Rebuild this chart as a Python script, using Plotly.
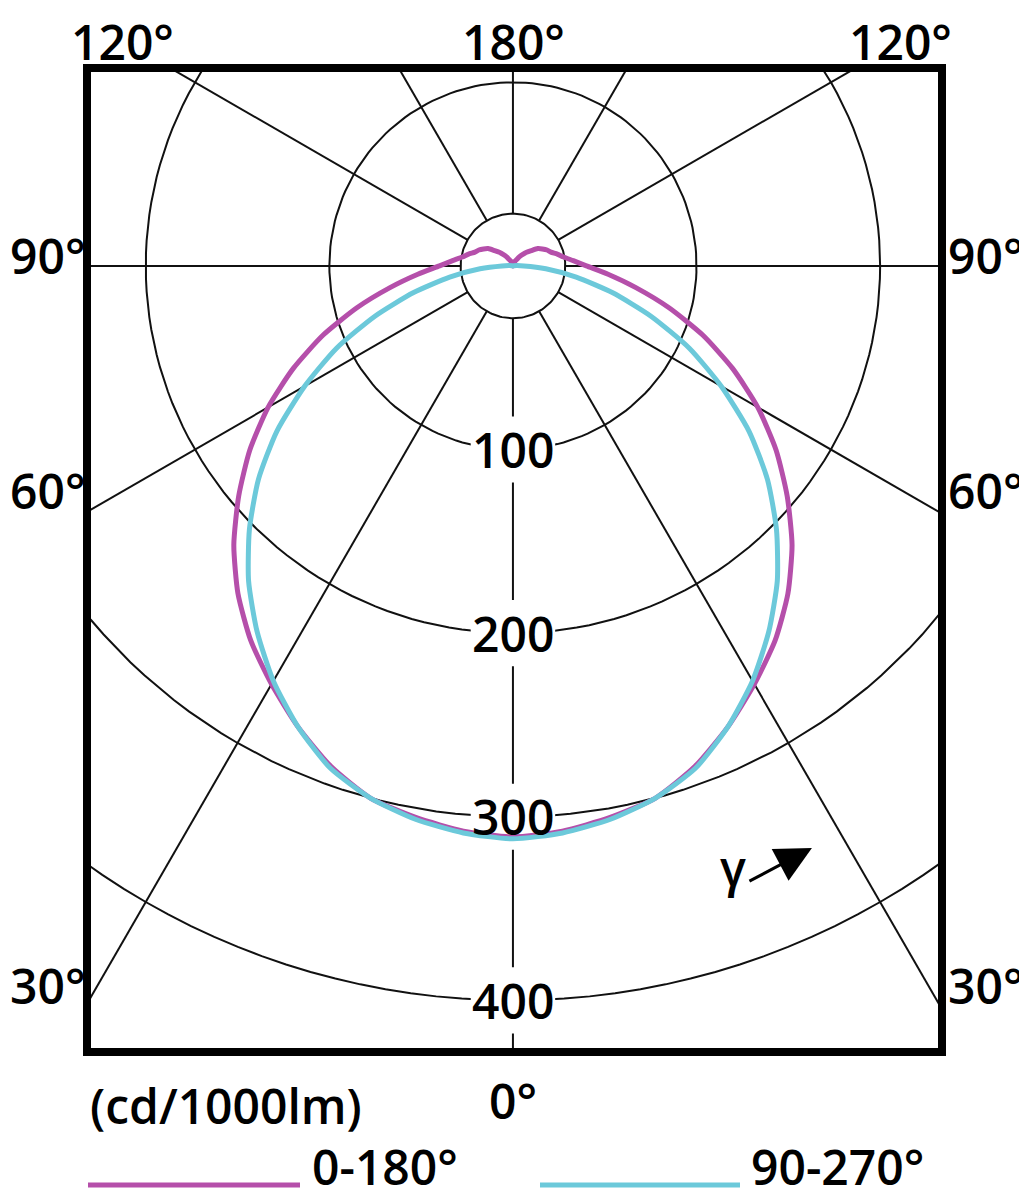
"""Polar light distribution diagram (cd/1000lm) for two C-planes."""

import numpy as np
import plotly.graph_objects as go

# ── data ────────────────────────────────────────────────────────────────
GAMMA = [0, 5, 10, 15, 20, 25, 30, 35, 40, 45, 50, 55, 60, 65, 70, 75, 80, 85, 90,
         95, 100, 105, 110, 115, 120, 125, 130, 135, 140, 145, 150, 155, 160, 165,
         170, 175, 180]

# C0-C180 plane
I_C0_180 = [311, 309, 305, 300, 290, 277, 263, 249, 233, 215, 195, 175, 154, 132,
            110, 88, 68, 52, 40, 33, 28, 25, 22, 20.5, 18.5, 16.5, 13, 10.5, 8, 6,
            4, 3, 2, 1.5, 1, 0.5, 0]

# C90-C270 plane
I_C90_270 = [312, 310, 306, 300, 291, 277, 261, 243, 224, 203, 181, 157, 131, 106,
             80, 56, 35, 18, 6, 2, 0.5, 0, 0, 0, 0, 0, 0, 0, 0, 0, 0, 0, 0, 0, 0,
             0, 0]

SERIES_NAMES = ["0-180°", "90-270°"]
SERIES_COLORS = ["#B54FAA", "#6CC9DA"]

RINGS = [100, 200, 300, 400]
RING_LABELS = ["100", "200", "300", "400"]
INNER_RING = 28.5
SPOKES = [0, 30, 60, 90, 120, 150, 180]
UNIT_LABEL = "(cd/1000lm)"

# ── geometry / layout ───────────────────────────────────────────────────
# page body has an 8px margin, so the figure is drawn 8px smaller and all
# reference pixel positions are shifted by OFF
OFF = 8
W, H = 1019, 1192
L, T = 87 - OFF, 68 - OFF
PW, PH = 855, 984
R, B = W - L - PW, H - T - PH
X_RANGE = [-232.0, 233.7]
Y_RANGE = [-428.1, 107.8]
FONT = "Open Sans"
S = 1.836  # px per cd/1000lm


def polar_xy(r, deg):
    t = np.radians(np.asarray(deg, dtype=float))
    r = np.asarray(r, dtype=float)
    return r * np.sin(t), -r * np.cos(t)


def px(x, y):
    """reference pixel position -> paper coords"""
    return (x - OFF - L) / PW, (T + PH - (y - OFF)) / PH


fig = go.Figure()

# grid rings
circle = np.arange(0, 361, 2)
for rr in [INNER_RING] + RINGS:
    cx, cy = polar_xy(np.full(circle.shape, rr), circle)
    fig.add_trace(go.Scatter(x=cx, y=cy, mode="lines", line=dict(color="#111", width=2),
                             hoverinfo="skip", showlegend=False))

# spokes, starting on the inner ring
sx, sy = [], []
for a in SPOKES:
    for sign in ([1] if a in (0, 180) else [1, -1]):
        x0, y0 = polar_xy(INNER_RING, sign * a)
        x1, y1 = polar_xy(900, sign * a)
        sx += [x0, x1, None]
        sy += [y0, y1, None]
fig.add_trace(go.Scatter(x=sx, y=sy, mode="lines", line=dict(color="#111", width=2),
                         hoverinfo="skip", showlegend=False))

# white boxes behind the ring labels (break the grid only)
hw, hh = 23, 18
for rr in RINGS:
    fig.add_trace(go.Scatter(
        x=[-hw, hw, hw, -hw, -hw], y=[-rr - hh, -rr - hh, -rr + hh, -rr + hh, -rr - hh],
        mode="lines", fill="toself", fillcolor="white", line=dict(width=0),
        hoverinfo="skip", showlegend=False))

# curves
for name, vals, col in zip(SERIES_NAMES, [I_C0_180, I_C90_270], SERIES_COLORS):
    ang = [-g for g in GAMMA[::-1][:-1]] + GAMMA
    rad = vals[::-1][:-1] + vals
    cx, cy = polar_xy(rad, ang)
    fig.add_trace(go.Scatter(x=cx, y=cy, mode="lines", name=name,
                             line=dict(color=col, width=5, shape="spline", smoothing=0.6),
                             showlegend=False))

ann = []
txt = dict(family=FONT, size=48, color="black", weight=600)

for rr, lab in zip(RINGS, RING_LABELS):
    ann.append(dict(x=0, y=-rr, xref="x", yref="y", text=lab, showarrow=False, font=txt))

# angle labels around the frame
top_y = (T + PH) / PH
for text, x in [("120°", 122), ("180°", 513), ("120°", 900)]:
    xp, _ = px(x, 0)
    ann.append(dict(x=xp, y=top_y, xref="paper", yref="paper", text=text, showarrow=False,
                    xanchor="center", yanchor="top", borderpad=0, font=txt))

left_x = -L / PW
right_x = (W - L - 2) / PW
for text, y in [("90°", 256), ("60°", 490), ("30°", 985)]:
    _, yp = px(0, y)
    ann.append(dict(x=left_x, y=yp, xref="paper", yref="paper", text=text, showarrow=False,
                    xanchor="left", yanchor="middle", font=txt))
    ann.append(dict(x=right_x, y=yp, xref="paper", yref="paper", text=text, showarrow=False,
                    xanchor="right", yanchor="middle", font=txt))

xp, yp = px(513, 1100)
ann.append(dict(x=xp, y=yp, xref="paper", yref="paper", text="0°", showarrow=False,
                xanchor="center", yanchor="middle", font=txt))

xp, yp = px(88, 1105)
ann.append(dict(x=xp, y=yp, xref="paper", yref="paper", text=UNIT_LABEL, showarrow=False,
                xanchor="left", yanchor="middle", font=txt))

# gamma arrow
ann.append(dict(x=(812 - 513) / S, y=-(848 - 266) / S, xref="x", yref="y",
                ax=(748 - 513) / S, ay=-(882 - 266) / S, axref="x", ayref="y",
                text="", showarrow=True, arrowhead=2, arrowsize=2.4, arrowwidth=3,
                arrowcolor="black"))
ann.append(dict(x=(733 - 513) / S, y=-(868 - 266) / S, xref="x", yref="y",
                text="γ", showarrow=False, font=txt))

# legend drawn by hand: long line samples, text kept inside the page
shapes = [dict(type="rect", xref="paper", yref="paper", x0=0, x1=1, y0=0, y1=1,
               line=dict(color="black", width=8), layer="above")]
bottom_y = -B / PH
for name, col, (lx0, lx1, tx) in zip(SERIES_NAMES, SERIES_COLORS,
                                     [(88, 300, 311), (540, 740, 750)]):
    a0, ly = px(lx0, 1185)
    a1, _ = px(lx1, 1185)
    shapes.append(dict(type="line", xref="paper", yref="paper", x0=a0, x1=a1, y0=ly, y1=ly,
                       line=dict(color=col, width=5)))
    tp, _ = px(tx, 0)
    ann.append(dict(x=tp, y=bottom_y, xref="paper", yref="paper", text=name, showarrow=False,
                    xanchor="left", yanchor="bottom", borderpad=0, font=txt))

fig.update_layout(
    width=W, height=H,
    margin=dict(l=L, r=R, t=T, b=B),
    paper_bgcolor="white", plot_bgcolor="white",
    annotations=ann, shapes=shapes,
    hovermode=False,
)
fig.update_xaxes(range=X_RANGE, visible=False, fixedrange=True)
fig.update_yaxes(range=Y_RANGE, visible=False, fixedrange=True)

fig.write_html("out.html")
